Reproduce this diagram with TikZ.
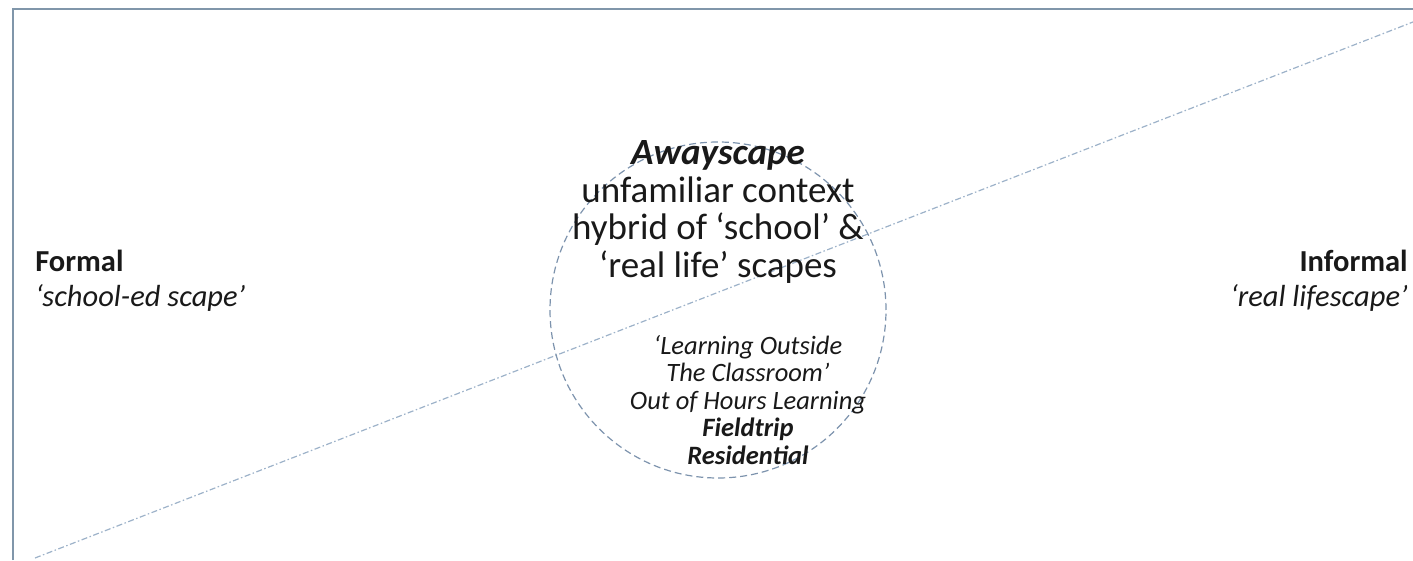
\documentclass[tikz,border=0pt]{standalone}
\usepackage{fontspec}
\setmainfont{Carlito}

\definecolor{frameblue}{HTML}{8096AA}
\definecolor{lineblue}{HTML}{9DB2C9}
\definecolor{ringblue}{HTML}{7D93AD}

\begin{document}
\begin{tikzpicture}[x=1pt, y=1pt, semithick]
		\tikzstyle{every node}=[inner sep=0pt, text=black!90]
		\tikzstyle{sidetext}=[font=\fontsize{30.5}{35}\selectfont]
		\tikzstyle{bigtext}=[align=center, font=\fontsize{37}{37.5}\selectfont]
		\tikzstyle{smalltext}=[align=center, font=\fontsize{26.5}{27.5}\selectfont\itshape]
		\useasboundingbox (0,0) rectangle (1413,560);
	
		% frame, only top and left are visible
		\draw[frameblue, line width=2pt] (13,0) -- (13,551) -- (1413,551);
	
		% the diagonal between the two scapes
		\coordinate (low) at (35,2);
		\coordinate (high) at (1413,538);
		\draw[lineblue, line width=1.2pt, dash pattern=on 6pt off 2.5pt on 1.5pt off 2.5pt] (low) -- (high);
	
		\draw (718,250) node[circle, draw=ringblue, line width=1.2pt, dash pattern=on 7pt off 4pt, minimum size=336pt] (away) {};
		\draw (718,348) node[bigtext] (hybrid) {\textbf{\textit{Awayscape}}\\unfamiliar context\\hybrid of `school' \&\\`real life' scapes};
		\draw (748,160) node[smalltext] (kinds) {`Learning Outside\\The Classroom'\\Out of Hours Learning\\\textbf{Fieldtrip}\\\textbf{Residential}};
	
		\draw (35,279) node[sidetext, anchor=west, align=left] (formal) {\textbf{Formal}\\\textit{`school-ed scape'}};
		\draw (1408,279) node[sidetext, anchor=east, align=right] (informal) {\textbf{Informal}\\\textit{`real lifescape'}};
	\end{tikzpicture}
\end{document}
